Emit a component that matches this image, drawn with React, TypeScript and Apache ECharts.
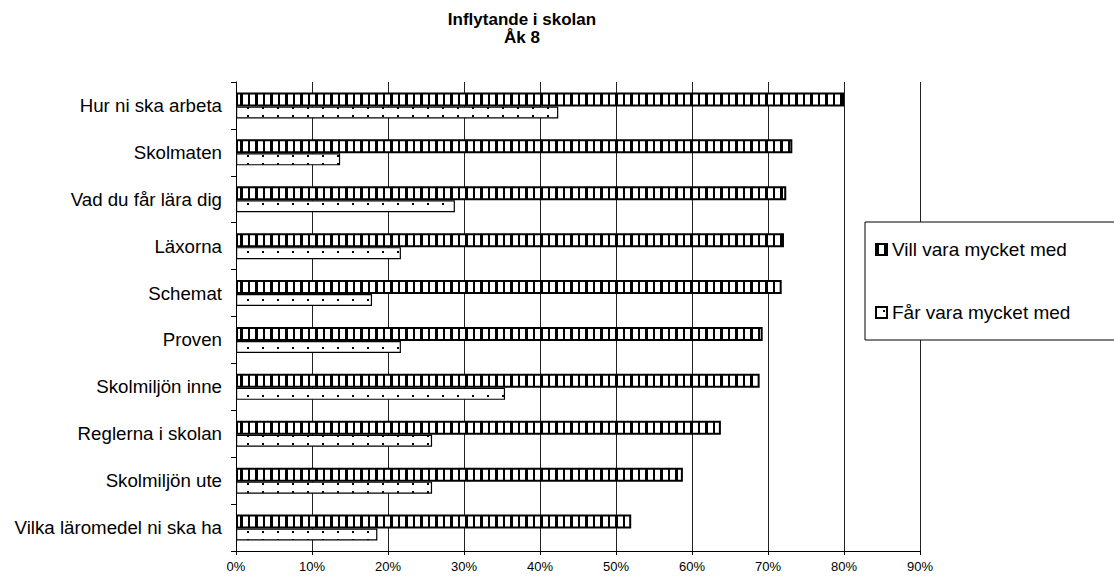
import React, { useEffect, useRef } from "react";
import * as echarts from "echarts";

const titleLines = ["Inflytande i skolan", "Åk 8"];
const categories = [
  "Hur ni ska arbeta",
  "Skolmaten",
  "Vad du får lära dig",
  "Läxorna",
  "Schemat",
  "Proven",
  "Skolmiljön inne",
  "Reglerna i skolan",
  "Skolmiljön ute",
  "Vilka läromedel ni ska ha",
];
const seriesNames = ["Vill vara mycket med", "Får vara mycket med"];
const villVara = [80.0, 73.2, 72.4, 72.1, 71.8, 69.3, 68.9, 63.8, 58.8, 52.0];
const farVara = [42.4, 13.7, 28.8, 21.7, 17.9, 21.7, 35.4, 25.8, 25.8, 18.6];
const xMin = 0;
const xMax = 90;
const xInterval = 10;

function stripePattern() {
  const c = document.createElement("canvas");
  const w = 15;
  const h = 4;
  c.width = w;
  c.height = h;
  const ctx = c.getContext("2d")!;
  ctx.fillStyle = "#ffffff";
  ctx.fillRect(0, 0, w, h);
  ctx.fillStyle = "#000000";
  ctx.fillRect(0, 0, 3, h);
  ctx.fillRect(8, 0, 2, h);
  return { image: c.toDataURL(), imageWidth: w, imageHeight: h, repeat: "repeat" };
}

function dotPattern() {
  const c = document.createElement("canvas");
  const w = 15;
  const h = 8;
  c.width = w;
  c.height = h;
  const ctx = c.getContext("2d")!;
  ctx.fillStyle = "#ffffff";
  ctx.fillRect(0, 0, w, h);
  ctx.fillStyle = "#000000";
  ctx.fillRect(7, 3, 2, 2);
  return { image: c.toDataURL(), imageWidth: w, imageHeight: h, repeat: "repeat" };
}

export default function App() {
  const ref = useRef<HTMLDivElement>(null);
  useEffect(() => {
    if (!ref.current) return;
    const chart = echarts.init(ref.current, undefined, { renderer: "svg" });
    const font = "'Liberation Sans', Arial, Helvetica, sans-serif";
    chart.setOption({
      animation: false,
      backgroundColor: "#ffffff",
      textStyle: { fontFamily: font, color: "#000" },
      title: {
        text: titleLines.join("\n"),
        left: 517,
        top: 5,
        textAlign: "center",
        textStyle: { fontSize: 17, fontWeight: "bold", color: "#000", lineHeight: 18, fontFamily: font },
      },
      legend: {
        data: seriesNames,
        orient: "vertical",
        left: 865,
        top: 222,
        icon: "rect",
        itemWidth: 11,
        itemHeight: 11,
        itemGap: 44,
        padding: [18, 70, 18, 10],
        borderColor: "#000",
        borderWidth: 1,
        backgroundColor: "#fff",
        textStyle: { fontSize: 19, color: "#000", fontFamily: font },
      },
      grid: { left: 236, right: 194, top: 82, bottom: 28, containLabel: false },
      xAxis: {
        type: "value",
        min: xMin,
        max: xMax,
        interval: xInterval,
        axisLine: { show: true, lineStyle: { color: "#000", width: 1 } },
        axisTick: { show: true, length: 4, lineStyle: { color: "#000" } },
        axisLabel: { formatter: "{value}%", fontSize: 13, color: "#000", margin: 9, fontFamily: font },
        splitLine: { show: true, lineStyle: { color: "#222", width: 1 } },
      },
      yAxis: {
        type: "category",
        inverse: true,
        data: categories,
        axisLine: { show: true, lineStyle: { color: "#000", width: 1 } },
        axisTick: { show: true, length: 5, lineStyle: { color: "#000" } },
        axisLabel: { fontSize: 18.7, color: "#000", margin: 14, fontFamily: font },
      },
      series: [
        {
          name: seriesNames[0],
          type: "bar",
          data: villVara,
          barWidth: 14,
          barGap: "0%",
          itemStyle: { color: stripePattern(), borderColor: "#000", borderWidth: 2 },
        },
        {
          name: seriesNames[1],
          type: "bar",
          data: farVara,
          barWidth: 12,
          barGap: "0%",
          itemStyle: { color: dotPattern(), borderColor: "#000", borderWidth: 1.2 },
        },
      ],
    });
    return () => chart.dispose();
  }, []);
  return (
    <div
      ref={ref}
      style={{ position: "fixed", left: 0, top: 0, width: 1114, height: 579, background: "#fff" }}
    />
  );
}
